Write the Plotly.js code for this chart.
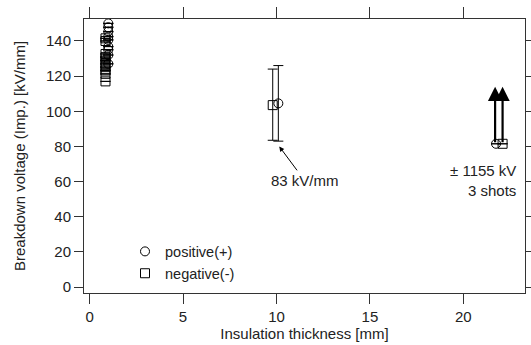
<!DOCTYPE html>
<html>
<head>
<meta charset="utf-8">
<script src="https://cdn.plot.ly/plotly-3.0.1.min.js"></script>
<style>html,body{margin:0;padding:0;background:#fff;}#chart{width:531px;height:345px;}</style>
</head>
<body>
<div id="chart"></div>
<script>
// Positive polarity (+)
var posX = [1.0, 1.0, 1.0, 1.0, 1.0, 1.0, 1.0, 1.0, 1.0, 10.1, 21.75];
var posY = [150, 147.8, 145.3, 142.5, 140.6, 136.8, 135, 132, 127, 104.5, 81.5];
var posErrPlus  = [0, 0, 0, 0, 0, 0, 0, 0, 0, 21.5, 0];
var posErrMinus = [0, 0, 0, 0, 0, 0, 0, 0, 0, 21.5, 0];
// Negative polarity (-)
var negX = [0.85, 0.85, 0.85, 0.85, 0.85, 0.85, 0.85, 0.85, 0.85, 0.85, 9.8, 22.1];
var negY = [141.5, 140, 132.6, 130.8, 128.9, 127, 125.1, 123.2, 121.3, 117, 103.5, 81.5];
var negErrPlus  = [0, 0, 0, 0, 0, 0, 0, 0, 0, 0, 20.5, 0];
var negErrMinus = [0, 0, 0, 0, 0, 0, 0, 0, 0, 0, 20, 0];
// Arrows at 22 mm (no breakdown at max voltage)
var arrowX = [21.7, 22.1];
var arrowFrom = [81.5, 81.5];
var arrowTo = [114, 114];
// Ticks and labels
var xTicks = [0, 5, 10, 15, 20];
var yTicks = [0, 20, 40, 60, 80, 100, 120, 140];
var seriesNames = ["positive(+)", "negative(-)"];
var xTitle = "Insulation thickness [mm]";
var yTitle = "Breakdown voltage (Imp.) [kV/mm]";
var note83 = {x: 11.5, y: 60.7, px: 10.15, py: 80, text: "83 kV/mm"};
var note1155 = {x: 22.95, y: 60.5, text: "\u00b1 1155 kV<br>3 shots"};

var FONT = "Liberation Sans, Arial, sans-serif";
var TXT = "#222";
var LINE = "#333";
var XR = [-0.3, 23.3];
var YR = [-3.4, 152.5];

var traces = [
  {
    x: posX, y: posY, name: seriesNames[0], type: "scatter", mode: "markers",
    marker: {symbol: "circle-open", size: 9, color: "#000", line: {width: 1, color: "#000"}},
    error_y: {type: "data", symmetric: false, array: posErrPlus, arrayminus: posErrMinus,
              color: "#000", thickness: 1, width: 5}
  },
  {
    x: negX, y: negY, name: seriesNames[1], type: "scatter", mode: "markers",
    marker: {symbol: "square-open", size: 9, color: "#000", line: {width: 1, color: "#000"}},
    error_y: {type: "data", symmetric: false, array: negErrPlus, arrayminus: negErrMinus,
              color: "#000", thickness: 1, width: 5}
  },
  // invisible trace to activate the top and right axes
  {x: [XR[0]], y: [YR[0]], xaxis: "x2", yaxis: "y2", type: "scatter", mode: "markers",
   marker: {opacity: 0, size: 1}, showlegend: false, hoverinfo: "skip"}
];

var annotations = [];
for (var i = 0; i < arrowX.length; i++) {
  annotations.push({
    x: arrowX[i], y: arrowTo[i], ax: arrowX[i], ay: arrowFrom[i],
    xref: "x", yref: "y", axref: "x", ayref: "y",
    text: "", showarrow: true, arrowhead: 2, arrowsize: 1.3, arrowwidth: 2.2, arrowcolor: "#000"
  });
}
annotations.push({
  x: note83.px, y: note83.py, ax: note83.x, ay: note83.y,
  xref: "x", yref: "y", axref: "x", ayref: "y",
  text: note83.text, showarrow: true, arrowhead: 2, arrowsize: 1, arrowwidth: 1, arrowcolor: "#000",
  font: {family: FONT, size: 15, color: TXT}
});
annotations.push({
  x: note1155.x, y: note1155.y, xref: "x", yref: "y",
  text: note1155.text, showarrow: false, xanchor: "right", align: "right",
  font: {family: FONT, size: 15, color: TXT}
});

var layout = {
  width: 531, height: 345,
  margin: {l: 84, r: 6, t: 19, b: 52},
  paper_bgcolor: "#fff", plot_bgcolor: "#fff",
  font: {family: FONT, size: 15, color: TXT},
  showlegend: true,
  legend: {x: 0.093, y: 0.21, xanchor: "left", yanchor: "top", bgcolor: "rgba(0,0,0,0)",
           tracegroupgap: 0, font: {family: FONT, size: 14.5, color: TXT}},
  xaxis: {
    range: XR, tickvals: xTicks, ticks: "outside", ticklen: 10, tickwidth: 1,
    tickcolor: LINE, showline: true, linecolor: LINE, linewidth: 1, mirror: true,
    showgrid: false, zeroline: false, title: {text: xTitle, font: {size: 15, color: TXT}, standoff: 2},
    tickfont: {size: 15, color: TXT}
  },
  yaxis: {
    range: YR, tickvals: yTicks, ticks: "outside", ticklen: 9, tickwidth: 1,
    tickcolor: LINE, showline: true, linecolor: LINE, linewidth: 1, mirror: true,
    showgrid: false, zeroline: false, title: {text: yTitle, font: {size: 15, color: TXT}, standoff: 16},
    tickfont: {size: 15, color: TXT}
  },
  xaxis2: {
    overlaying: "x", side: "top", anchor: "y2", range: XR, tickvals: xTicks,
    ticks: "outside", ticklen: 11, tickwidth: 1, tickcolor: LINE, showticklabels: false,
    showgrid: false, zeroline: false, showline: false, fixedrange: true
  },
  yaxis2: {
    overlaying: "y", side: "right", anchor: "x2", range: YR, tickvals: yTicks,
    ticks: "outside", ticklen: 6, tickwidth: 1, tickcolor: LINE, showticklabels: false,
    showgrid: false, zeroline: false, showline: false, fixedrange: true
  },
  annotations: annotations
};

Plotly.newPlot("chart", traces, layout, {staticPlot: true, displayModeBar: false});
</script>
</body>
</html>
